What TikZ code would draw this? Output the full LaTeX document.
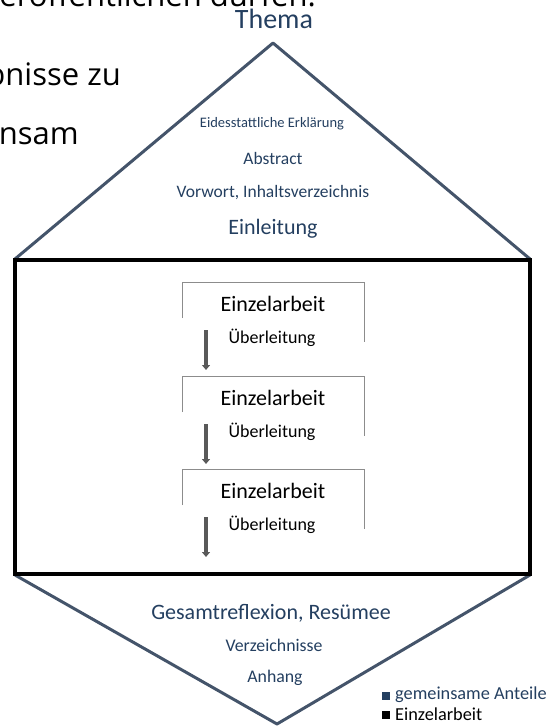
\documentclass[tikz,border=0pt]{standalone}
\usepackage{fontspec}
\setmainfont{Carlito}
\newfontfamily\fragfont{Open Sans}
\usetikzlibrary{arrows.meta}
\definecolor{txtblue}{HTML}{243F60}
\definecolor{lineblue}{HTML}{44546A}
\definecolor{arrgray}{HTML}{595959}
\definecolor{boxgray}{HTML}{8C8C8C}
\newcommand{\fs}[1]{\fontsize{#1}{#1}\selectfont}
\begin{document}
\begin{tikzpicture}[x=1pt,y=-1pt,
  lbl/.style={text=txtblue, inner sep=0pt, anchor=center},
  einz/.style={text=black, inner sep=0pt, anchor=center, font=\fs{22}},
  ueber/.style={text=black, inner sep=0pt, anchor=center, font=\fs{18}},
  frag/.style={font=\fragfont\fs{31}, inner sep=0pt, text=black},
  outline/.style={draw=lineblue, line width=3pt, line join=round},
  frame/.style={draw=black, line width=3.2pt},
  bracket/.style={draw=boxgray, line width=0.9pt},
  flow/.style={draw=arrgray, line width=3.6pt, -{Triangle[width=8pt,length=5pt]}},
  legsq/.style={minimum size=8pt, inner sep=0pt}]
\useasboundingbox (0,0) rectangle (550,728);
% cut-off text fragments of the surrounding page
\begin{scope}
\clip (0,0) rectangle (550,728);
\node[frag, anchor=base east] (f1) at (316,6) {icht veröffentlichen dürfen.};
\node[frag, anchor=base east] (f2) at (121,85) {bnisse zu};
\node[frag, anchor=base east] (f3) at (79,144) {gemeinsam};
\end{scope}
% outline
\coordinate (tl) at (15,259);
\coordinate (tr) at (530,259);
\coordinate (apex) at (273,43);
\coordinate (bl) at (15,575);
\coordinate (br) at (530,575);
\coordinate (foot) at (277,724);
\draw[outline] (tl) -- (apex) -- (tr);
\draw[outline] (bl) -- (foot) -- (br);
\draw[frame] (15,260) rectangle (530,574);
% top texts
\node[lbl, font=\fs{28}] (thema) at (274,19) {Thema};
\node[lbl, font=\fs{14.5}] (eid) at (272,124) {Eidesstattliche Erklärung};
\node[lbl, font=\fs{17.5}] (abs) at (273,158) {Abstract};
\node[lbl, font=\fs{17.5}] (vor) at (273,193) {Vorwort, Inhaltsverzeichnis};
\node[lbl, font=\fs{22}] (einl) at (273,229) {Einleitung};
% individual parts
\foreach \i/\t in {1/282, 2/376, 3/469} {
  \draw[bracket] (182,\t+36) -- (182,\t) -- (364,\t) -- (364,\t+60);
  \node[einz] (e\i) at (273,\t+22) {Einzelarbeit};
  \node[ueber] (u\i) at (272,\t+56) {Überleitung};
  \coordinate (as\i) at (206,\t+48);
  \coordinate (ae\i) at (206,\t+88);
  \draw[flow] (as\i) -- (ae\i);
}
% bottom texts
\node[lbl, font=\fs{22}] (ges) at (271,613) {Gesamtreflexion, Resümee};
\node[lbl, font=\fs{17.8}] (verz) at (274,645) {Verzeichnisse};
\node[lbl, font=\fs{17.8}] (anh) at (275,678) {Anhang};
% legend
\node[legsq, fill=txtblue] (sq1) at (386,696) {};
\node[legsq, fill=black] (sq2) at (386,715) {};
\node[text=txtblue, font=\fs{18.3}, anchor=west, inner sep=0pt] (l1) at (395,695) {gemeinsame Anteile};
\node[text=black, font=\fs{18.3}, anchor=west, inner sep=0pt] (l2) at (395,714) {Einzelarbeit};
\end{tikzpicture}
\end{document}
